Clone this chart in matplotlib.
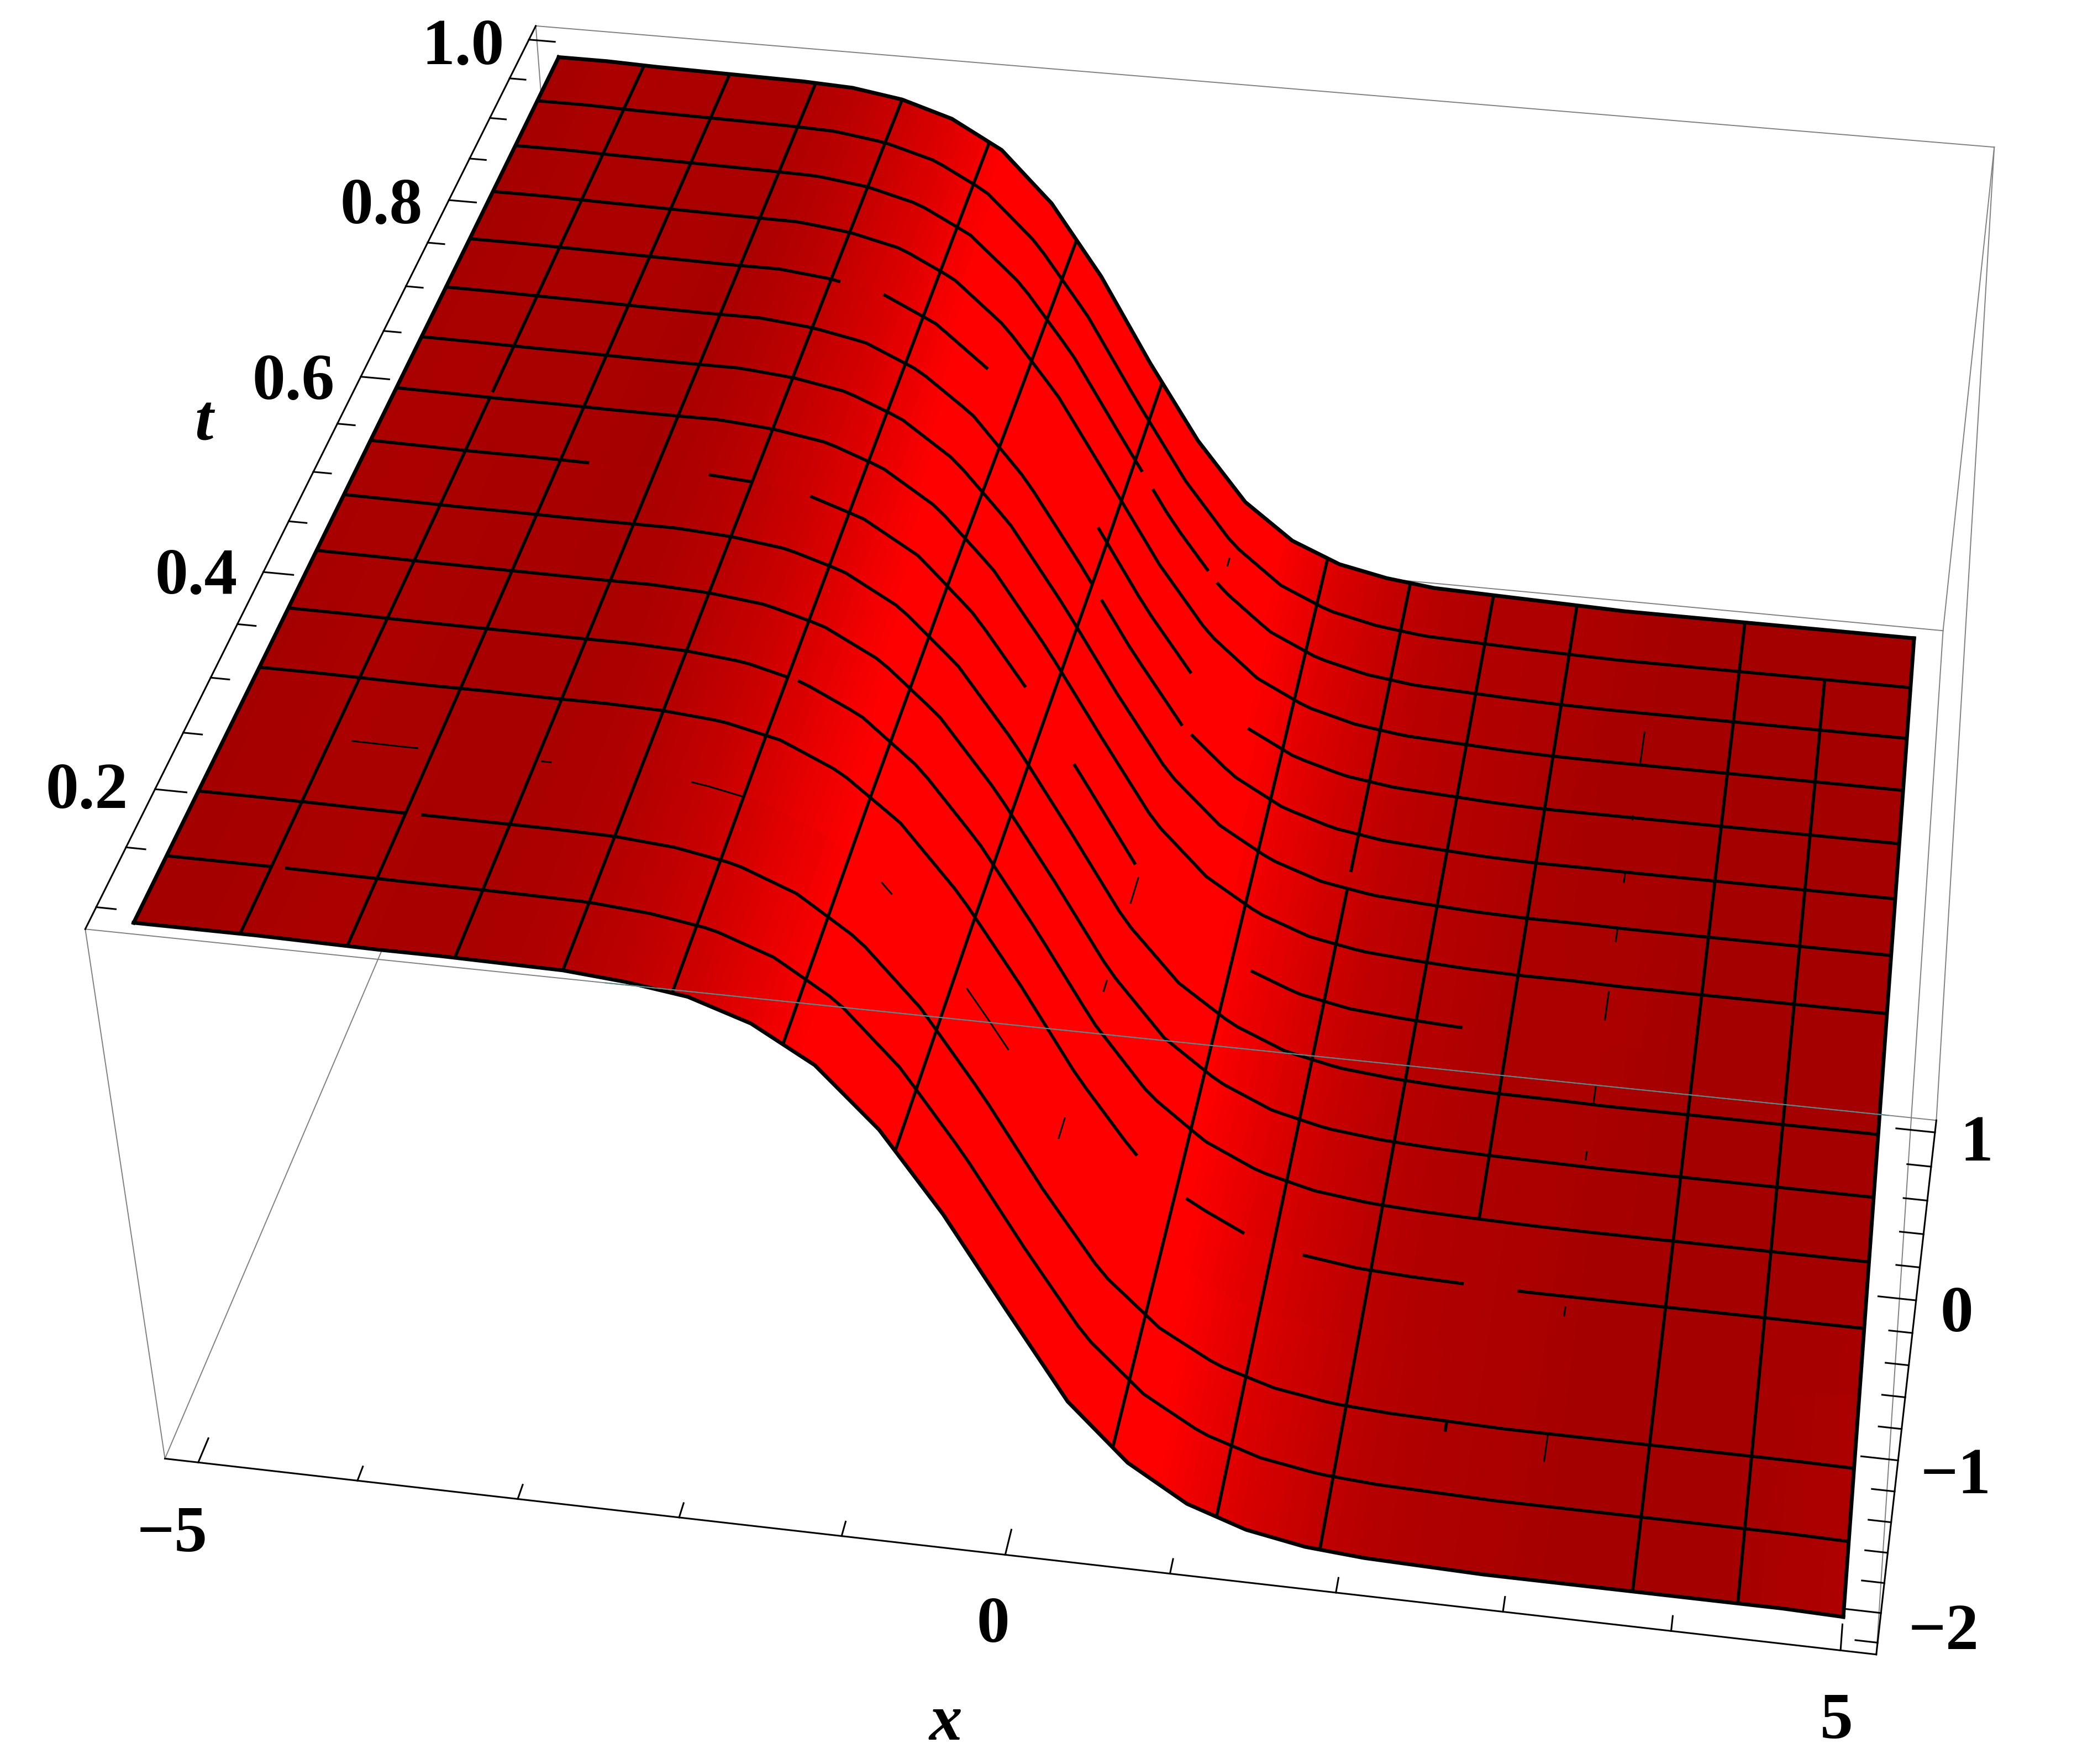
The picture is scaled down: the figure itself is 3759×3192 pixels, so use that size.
import numpy as np
import matplotlib
matplotlib.use("Agg")
import matplotlib.pyplot as plt

W, H = 3759, 3192

# surface height, one row per t
x_grid = [-5.0, -4.643, -4.286, -3.929, -3.571, -3.214, -2.857, -2.5, -2.143, -1.786,
          -1.429, -1.071, -0.714, -0.357, 0.0, 0.357, 0.714, 1.071, 1.429, 1.786,
          2.143, 2.5, 2.857, 3.214, 3.571, 3.929, 4.286, 4.643, 5.0]
t_grid = [0.1, 0.325, 0.55, 0.775, 1.0]
u_t010 = [1.0, 1.0, 1.0, 0.995, 0.99, 0.99, 0.985, 0.98, 0.95, 0.90, 0.78, 0.57, 0.22, -0.26, -0.82,
          -1.37, -1.73, -1.96, -2.09, -2.16, -2.19, -2.20, -2.21, -2.21, -2.21, -2.21, -2.21, -2.21, -2.22]
u_t033 = [0.99, 0.99, 0.985, 0.98, 0.98, 0.975, 0.975, 0.965, 0.935, 0.855, 0.695, 0.42, 0.005, -0.52, -1.09,
          -1.56, -1.85, -2.03, -2.13, -2.18, -2.20, -2.21, -2.22, -2.22, -2.22, -2.22, -2.22, -2.22, -2.22]
u_t055 = [0.985, 0.98, 0.975, 0.975, 0.97, 0.97, 0.97, 0.945, 0.895, 0.78, 0.575, 0.23, -0.25, -0.80, -1.36,
          -1.72, -1.95, -2.09, -2.16, -2.19, -2.21, -2.22, -2.22, -2.23, -2.23, -2.23, -2.23, -2.23, -2.23]
u_t078 = [0.975, 0.975, 0.97, 0.965, 0.96, 0.955, 0.955, 0.92, 0.85, 0.69, 0.42, 0.01, -0.52, -1.08, -1.55,
          -1.85, -2.03, -2.13, -2.18, -2.20, -2.22, -2.23, -2.23, -2.23, -2.23, -2.23, -2.23, -2.23, -2.23]
u_t100 = [0.97, 0.97, 0.96, 0.955, 0.95, 0.945, 0.93, 0.88, 0.78, 0.60, 0.27, -0.20, -0.77, -1.29, -1.70,
          -1.95, -2.09, -2.16, -2.20, -2.21, -2.22, -2.23, -2.24, -2.24, -2.24, -2.24, -2.24, -2.24, -2.24]

# where the mesh lines show through, in mesh steps. Anything not listed runs the whole way
t_line_parts = {
    1: [(0, 1.0), (1.13, 16)],
    2: [(0, 2.0), (2.15, 16)],
    3: [(1.2, 1.85), (3.05, 3.15), (4.5, 5.0), (6.3, 6.4), (7.1, 7.5)],
    4: [(0, 8.6), (9.1, 9.7), (10.3, 11.95), (12.5, 16)],
    5: [(0, 5.0), (5.1, 16)],
    8: [(0, 2.3), (3.55, 4.0), (4.6, 6.8), (7.3, 7.95), (9.2, 11.5)],
    11: [(0, 7.0), (7.1, 8.0), (8.1, 16)],
    12: [(0, 4.1), (4.57, 5.7), (6.9, 7.95), (8.6, 16)],
    14: [(0, 7.08), (7.2, 7.85), (7.95, 16)],
}
x_line_parts = {
    1: [(0, 9.0), (9.1, 16)],
    8: [(2.88, 3.26), (5.6, 5.83), (7.35, 7.9), (14.5, 14.7)],
    10: [(0, 10.0), (10.3, 16)],
    12: [(1.85, 2.0), (5, 16)],
    13: [(1.6, 2.0), (3.7, 3.85), (6.1, 6.25), (7.0, 7.3), (8.4, 8.9), (9.75, 10.0), (10.8, 11.0),
         (11.95, 12.05), (13.0, 13.65)],
    15: [(0, 15)],
}
# these only show as hairlines
thin_t_lines = [3]
thin_x_lines = [8, 13]

t_major = [0.2, 0.4, 0.6, 0.8, 1.0]
t_minor = [0.1, 0.15, 0.25, 0.3, 0.35, 0.45, 0.5, 0.55, 0.65, 0.7, 0.75, 0.85, 0.9, 0.95]
x_major = [-5, 0, 5]
x_minor = [-4, -3, -2, -1, 1, 2, 3, 4]
z_major = [-2, -1, 0, 1]
z_minor = [-2.2, -1.8, -1.6, -1.4, -1.2, -0.8, -0.6, -0.4, -0.2, 0.2, 0.4, 0.6, 0.8]

xlo, xhi = -5.21, 5.21
tlo, thi = 0.082, 1.018
zlo, zhi = -2.28, 1.07

# Box corners and where they land in the image, the camera is solved from these
box_corners = [(xlo, tlo, zhi), (xlo, thi, zhi), (xhi, thi, zhi), (xhi, tlo, zhi),
               (xlo, tlo, zlo), (xhi, tlo, zlo), (xhi, thi, zlo), (xlo, thi, zlo)]
box_pixels = [(154, 1681), (966, 54), (3612, 264), (3506, 2021),
              (300, 2644), (3393, 2995), (3515, 1147), (1039, 900)]


def solveCamera():
    rows = []
    rhs = []
    for (a, b, c), (u, v) in zip(box_corners, box_pixels):
        rows.append([a, b, c, 1, 0, 0, 0, 0, -u*a, -u*b, -u*c])
        rhs.append(u)
        rows.append([0, 0, 0, 0, a, b, c, 1, -v*a, -v*b, -v*c])
        rhs.append(v)
    p = np.linalg.lstsq(np.array(rows, float), np.array(rhs, float), rcond=None)[0]
    p = np.append(p, 1).reshape(3, 4)
    # mplot3d throws away lines outside -1..1, so map the image onto that.
    # third row only has to sort far things first
    return np.array([2*p[0]/W - p[2], p[2] - 2*p[1]/H, [0, 0, 0, -1], p[2]])


u_rows = np.array([u_t010, u_t033, u_t055, u_t078, u_t100])
x_arr = np.array(x_grid)
t_arr = np.array(t_grid)


def heightAt(xs, t):
    col = np.array([np.interp(t, t_arr, u_rows[:, i]) for i in range(len(x_arr))])
    return np.interp(xs, x_arr, col)


def slopeAt(xs, t):
    col = np.array([np.interp(t, t_arr, u_rows[:, i]) for i in range(len(x_arr))])
    return np.interp(xs, x_arr, np.abs(np.gradient(col, x_arr)))


def meshX(j):
    return -5 + 0.625*j


def meshT(k):
    return 0.1 + 0.05625*k


fig = plt.figure(figsize=(W/100, H/100), dpi=100)
ax = fig.add_axes([0, 0, 1, 1], projection='3d', computed_zorder=False)
cam = solveCamera()
ax.get_proj = lambda: cam
ax.apply_aspect = lambda position=None: None
ax.viewLim.intervalx = (-1, 1)
ax.viewLim.intervaly = (-1, 1)
ax.set_axis_off()

# surface, split finer than the table so the shading runs smooth
xs_fine = np.linspace(-5, 5, 225)
ts_fine = np.linspace(0.1, 1.0, 17)
XX, TT = np.meshgrid(xs_fine, ts_fine)
UU = np.array([heightAt(xs_fine, t) for t in ts_fine])
GG = np.array([slopeAt(xs_fine, t) for t in ts_fine])
shade = np.clip(0.645 + 0.355*(GG/0.7)**0.7, 0, 1)
colors = np.zeros(UU.shape + (4,))
colors[..., 0] = shade
colors[..., 3] = 1
ax.plot_surface(XX, TT, UU, facecolors=colors, rstride=1, cstride=1, shade=False,
                linewidth=0.6, antialiased=False, zorder=2)

# mesh
for k in range(1, 16):
    t = meshT(k)
    width = 2.2 if k in thin_t_lines else 4.2
    for a, b in t_line_parts.get(k, [(0, 16)]):
        xs = np.linspace(meshX(a), meshX(b), max(2, int((b-a)*8)))
        ax.plot(xs, xs*0 + t, heightAt(xs, t), color='black', lw=width, zorder=3, solid_capstyle='butt')
for j in range(1, 16):
    x = meshX(j)
    width = 2.2 if j in thin_x_lines else 4.2
    for a, b in x_line_parts.get(j, [(0, 16)]):
        ts = np.linspace(meshT(a), meshT(b), max(2, int((b-a)*2)))
        zs = [heightAt(np.array([x]), t)[0] for t in ts]
        ax.plot(ts*0 + x, ts, zs, color='black', lw=width, zorder=3, solid_capstyle='butt')

# outline of the surface
for t in (0.1, 1.0):
    ax.plot(xs_fine, xs_fine*0 + t, heightAt(xs_fine, t), color='black', lw=5, zorder=3)
for x in (-5.0, 5.0):
    zs = [heightAt(np.array([x]), t)[0] for t in ts_fine]
    ax.plot(ts_fine*0 + x, ts_fine, zs, color='black', lw=5, zorder=3)

# box
gray = '#808080'
for a, b in [(7, 4), (7, 1), (7, 6)]:
    ax.plot(*zip(box_corners[a], box_corners[b]), color=gray, lw=1.4, zorder=1)
for a, b in [(0, 3), (0, 4), (1, 2), (2, 3), (2, 6), (6, 5)]:
    ax.plot(*zip(box_corners[a], box_corners[b]), color=gray, lw=1.4, zorder=4)
# the front edge turns teal where it runs over the red
ax.plot([-2.2, 4.95], [tlo, tlo], [zhi, zhi], color='#5a8888', lw=1.4, zorder=4)
for a, b in [(0, 1), (4, 5), (3, 5)]:
    ax.plot(*zip(box_corners[a], box_corners[b]), color='black', lw=2.2, zorder=5)

# ticks
for t, size in [(t, 0.19) for t in t_major] + [(t, 0.115) for t in t_minor]:
    ax.plot([xlo, xlo + size], [t, t], [zhi, zhi], color='black', lw=2.2, zorder=5)
for x, size in [(x, 0.019) for x in x_major] + [(x, 0.011) for x in x_minor]:
    ax.plot([x, x], [tlo, tlo + size], [zlo, zlo], color='black', lw=2.2, zorder=5)
for z, size in [(z, 0.21) for z in z_major] + [(z, 0.13) for z in z_minor]:
    ax.plot([xhi, xhi - size], [tlo, tlo], [z, z], color='black', lw=2.2, zorder=5)

# labels sit at fixed places in the image
labels = [("1.0", 838, 87), ("0.8", 690, 375), ("0.6", 531, 694), ("0.4", 355, 1045), ("0.2", 157, 1433),
          ("\u22125", 312, 2778), ("0", 1797, 2942), ("5", 3324, 3117),
          ("1", 3577, 2071), ("0", 3541, 2380), ("\u22121", 3540, 2674), ("\u22122", 3518, 2955)]
for s, px, py in labels:
    fig.text(px/W, 1 - py/H, s, ha='center', va='center', family='Liberation Serif',
             fontweight='bold', fontsize=86)
for s, px, py in [("t", 369, 768), ("x", 1711, 3119)]:
    fig.text(px/W, 1 - py/H, s, ha='center', va='center', family='Liberation Serif',
             fontweight='bold', style='italic', fontsize=86)

fig.savefig("out.png", dpi=100)
